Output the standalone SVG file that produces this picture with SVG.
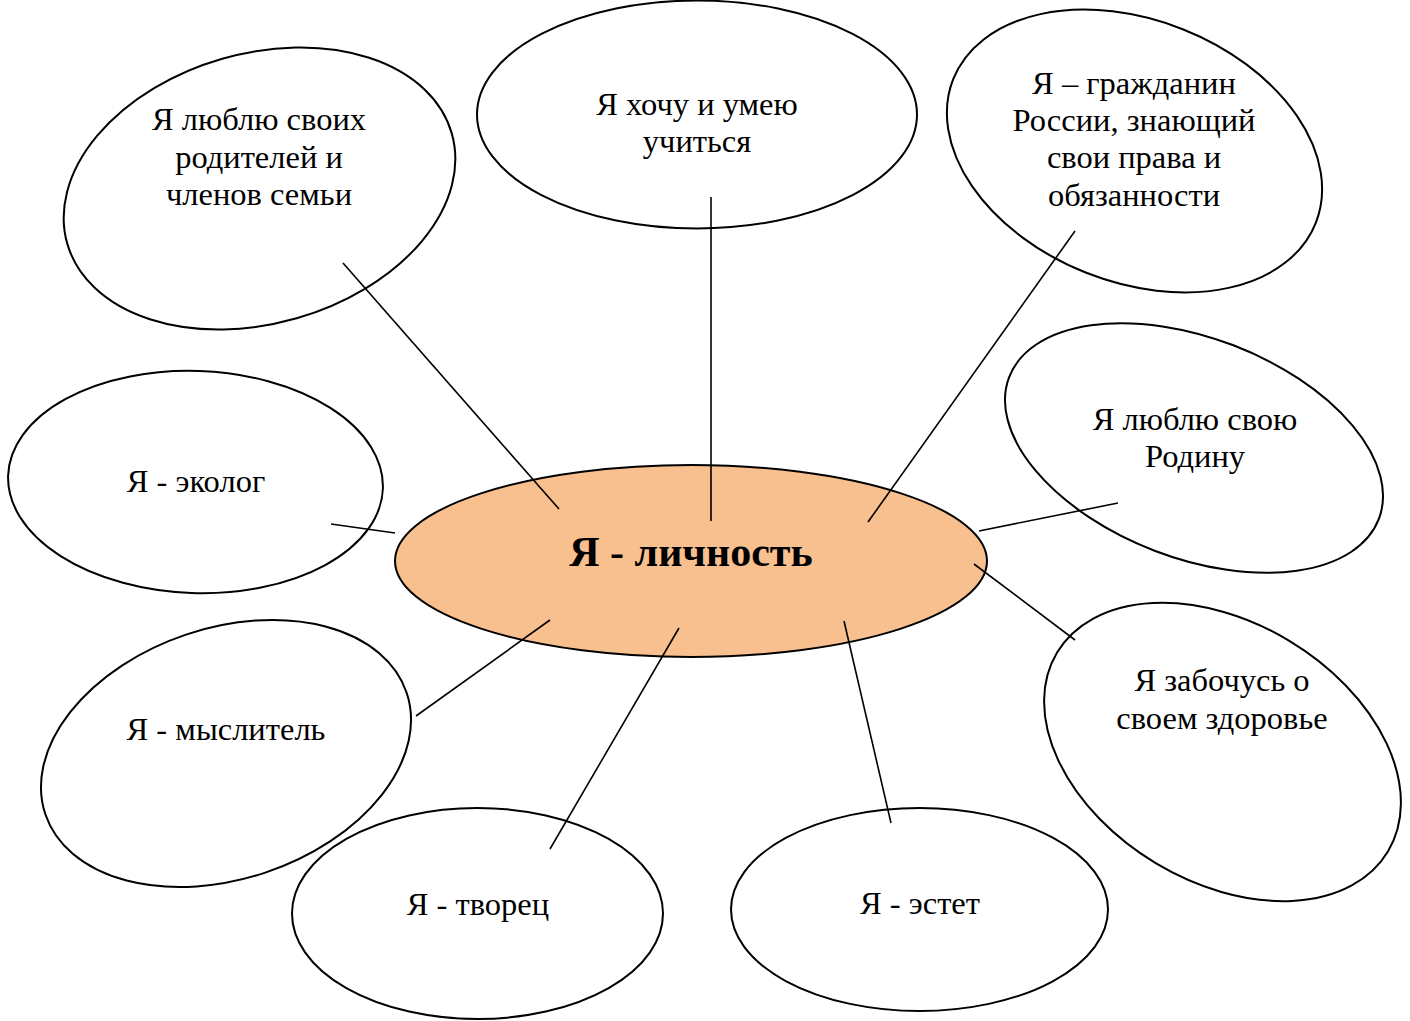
<svg xmlns="http://www.w3.org/2000/svg" width="1410" height="1021" viewBox="0 0 1410 1021">
<style>
.n{fill:#ffffff;stroke:#000000;stroke-width:2}
.c{fill:#F8BF8F;stroke:#000000;stroke-width:2}
.t{font-family:"Liberation Serif","Times New Roman",serif;font-size:32.5px;fill:#000000;text-anchor:middle}
.b{font-family:"Liberation Serif","Times New Roman",serif;font-size:42px;font-weight:bold;fill:#000000;text-anchor:middle}
.l{stroke:#000000;stroke-width:1.6;fill:none}
</style>
<rect width="1410" height="1021" fill="#ffffff"/>
<g id="node-parents">
<ellipse class="n" cx="259.5" cy="188.5" rx="200" ry="135" transform="rotate(-16 259.5 188.5)"/>
<text class="t" x="259" y="130">Я люблю своих</text>
<text class="t" x="259" y="168">родителей и</text>
<text class="t" x="259" y="205">членов семьи</text>
</g>
<g id="node-learn">
<ellipse class="n" cx="697" cy="114.5" rx="220" ry="114"/>
<text class="t" x="697" y="115">Я хочу и умею</text>
<text class="t" x="697" y="152">учиться</text>
</g>
<g id="node-citizen">
<ellipse class="n" cx="1134.5" cy="151" rx="195" ry="131" transform="rotate(21.6 1134.5 151)"/>
<text class="t" x="1134" y="94">Я – гражданин</text>
<text class="t" x="1134" y="131">России, знающий</text>
<text class="t" x="1134" y="168">свои права и</text>
<text class="t" x="1134" y="206">обязанности</text>
</g>
<g id="node-motherland">
<ellipse class="n" cx="1194" cy="448" rx="198" ry="110" transform="rotate(21 1194 448)"/>
<text class="t" x="1195" y="430">Я люблю свою</text>
<text class="t" x="1195" y="467">Родину</text>
</g>
<g id="node-ecologist">
<ellipse class="n" cx="195.5" cy="482" rx="187.5" ry="111" transform="rotate(2 195.5 482)"/>
<text class="t" x="196" y="492">Я - эколог</text>
</g>
<g id="node-thinker">
<ellipse class="n" cx="226" cy="753.5" rx="190.6" ry="125.4" transform="rotate(-18.6 226 753.5)"/>
<text class="t" x="226" y="740">Я - мыслитель</text>
</g>
<g id="node-creator">
<ellipse class="n" cx="477.5" cy="913.5" rx="185.5" ry="105.5"/>
<text class="t" x="478" y="915">Я - творец</text>
</g>
<g id="node-esthete">
<ellipse class="n" cx="919.5" cy="909.5" rx="188.5" ry="101.5"/>
<text class="t" x="920" y="914">Я - эстет</text>
</g>
<g id="node-health">
<ellipse class="n" cx="1222.5" cy="752" rx="193" ry="129.7" transform="rotate(31 1222.5 752)"/>
<text class="t" x="1222" y="691">Я забочусь о</text>
<text class="t" x="1222" y="729">своем здоровье</text>
</g>
<g id="node-center">
<ellipse class="c" cx="691" cy="561" rx="296" ry="96"/>
<text class="b" x="691" y="566">Я - личность</text>
</g>
<g id="connectors">
<line class="l" x1="343" y1="263" x2="559" y2="509"/>
<line class="l" x1="711" y1="197" x2="711" y2="521"/>
<line class="l" x1="1075" y1="231" x2="868" y2="522"/>
<line class="l" x1="1118" y1="503" x2="979" y2="531"/>
<line class="l" x1="331" y1="524" x2="395" y2="533"/>
<line class="l" x1="974" y1="564" x2="1075" y2="640"/>
<line class="l" x1="550" y1="620" x2="416" y2="716"/>
<line class="l" x1="679" y1="628" x2="550" y2="849"/>
<line class="l" x1="844" y1="621" x2="891" y2="823"/>
</g>
</svg>
